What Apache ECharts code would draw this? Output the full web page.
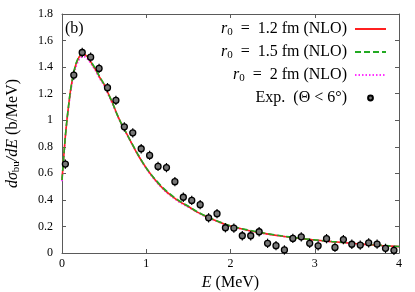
<!DOCTYPE html>
<html>
<head>
<meta charset="utf-8">
<script src="https://cdn.jsdelivr.net/npm/echarts@6/dist/echarts.min.js"></script>
<style>
html,body{margin:0;padding:0;background:#fff;}
#c{width:415px;height:292px;}
</style>
</head>
<body>
<div id="c"></div>
<script>
// Theory curves (NLO)
var curveX = [0,0.02,0.04,0.06,0.08,0.10,0.13,0.16,0.19,0.22,0.25,0.28,0.31,0.35,0.40,0.45,0.50,0.55,0.60,0.65,0.70,0.75,0.80,0.90,1.00,1.10,1.20,1.30,1.40,1.50,1.60,1.70,1.80,1.90,2.00,2.20,2.40,2.60,2.80,3.00,3.20,3.40,3.60,3.80,4.00];
var r12Y = [0.55,0.72,0.88,1.01,1.12,1.22,1.33,1.41,1.46,1.49,1.50,1.49,1.47,1.43,1.38,1.32,1.27,1.20,1.13,1.05,0.98,0.92,0.86,0.74,0.64,0.555,0.485,0.43,0.385,0.35,0.31,0.278,0.25,0.225,0.203,0.172,0.148,0.128,0.112,0.098,0.086,0.075,0.065,0.056,0.048];
var r15Y = [0.55,0.72,0.88,1.01,1.12,1.22,1.33,1.415,1.465,1.495,1.505,1.495,1.475,1.435,1.385,1.325,1.27,1.20,1.13,1.05,0.98,0.92,0.86,0.745,0.64,0.56,0.49,0.435,0.39,0.352,0.313,0.28,0.252,0.227,0.205,0.174,0.15,0.13,0.113,0.099,0.087,0.076,0.066,0.057,0.049];
var r20Y = [0.54,0.71,0.87,1.00,1.10,1.20,1.31,1.39,1.44,1.47,1.48,1.475,1.455,1.42,1.37,1.31,1.26,1.19,1.12,1.045,0.975,0.915,0.855,0.74,0.635,0.55,0.48,0.425,0.38,0.345,0.308,0.275,0.248,0.223,0.201,0.17,0.146,0.127,0.111,0.097,0.085,0.074,0.064,0.055,0.047];
// Experimental data (Theta < 6 deg)
var expX = [0.04,0.14,0.24,0.34,0.44,0.54,0.64,0.74,0.84,0.94,1.04,1.14,1.24,1.34,1.44,1.54,1.64,1.74,1.84,1.94,2.04,2.14,2.24,2.34,2.44,2.54,2.64,2.74,2.84,2.94,3.04,3.14,3.24,3.34,3.44,3.54,3.64,3.74,3.84,3.94];
var expY = [0.67,1.34,1.51,1.475,1.39,1.245,1.15,0.95,0.905,0.785,0.735,0.652,0.643,0.537,0.42,0.396,0.364,0.265,0.296,0.19,0.188,0.13,0.13,0.16,0.073,0.055,0.023,0.11,0.122,0.073,0.054,0.108,0.042,0.101,0.066,0.06,0.077,0.067,0.035,0.02];
var expErr = [0.035,0.035,0.035,0.035,0.035,0.035,0.035,0.035,0.035,0.035,0.035,0.035,0.035,0.035,0.035,0.035,0.035,0.035,0.035,0.035,0.035,0.035,0.035,0.035,0.035,0.035,0.035,0.035,0.035,0.035,0.035,0.035,0.035,0.035,0.035,0.035,0.035,0.035,0.035,0.035];
// Ticks
var xTicks = {min:0, max:4, step:1};
var yTicks = {min:0, max:1.8, step:0.2};

var FONT = 'Liberation Serif';
function zip(xs, ys){ return xs.map(function(x,i){ return [x, ys[i]]; }); }

var chart = echarts.init(document.getElementById('c'), null, {renderer:'canvas'});
var axisColor = '#5a5a5a';
var labels = {
  'r12': '{i|r}{s|0}{n|  =  1.2 fm (NLO)}',
  'r15': '{i|r}{s|0}{n|  =  1.5 fm (NLO)}',
  'r20': '{i|r}{s|0}{n|  =  2 fm (NLO)}',
  'exp': '{n|Exp.  (Θ < 6°)}'
};
var baseX = {type:'value', min:xTicks.min, max:xTicks.max, interval:xTicks.step,
  axisLine:{show:true, onZero:false, lineStyle:{color:axisColor, width:1}},
  axisTick:{show:true, inside:true, length:4, lineStyle:{color:axisColor}},
  splitLine:{show:false}};
var baseY = {type:'value', min:yTicks.min, max:yTicks.max, interval:yTicks.step,
  axisLine:{show:true, onZero:false, lineStyle:{color:axisColor, width:1}},
  axisTick:{show:true, inside:true, length:4, lineStyle:{color:axisColor}},
  splitLine:{show:false}};

var option = {
  animation:false,
  backgroundColor:'#fff',
  grid:{left:62, right:16, top:14, bottom:39, containLabel:false, outerBoundsMode:'none'},
  xAxis:[
    Object.assign({}, baseX, {position:'bottom',
      axisLabel:{show:true, color:'#000', fontFamily:FONT, fontSize:12, margin:5},
      name:'{i|E} (MeV)', nameLocation:'middle', nameGap:22,
      nameTextStyle:{color:'#000', fontFamily:FONT, fontSize:16, rich:{i:{fontStyle:'italic', fontFamily:FONT, fontSize:16}}}}),
    Object.assign({}, baseX, {position:'top', axisLabel:{show:false}})
  ],
  yAxis:[
    Object.assign({}, baseY, {position:'left',
      axisLabel:{show:true, color:'#000', fontFamily:FONT, fontSize:12, margin:9},
      name:'{i|dσ}{s|bu}{i|/dE} (b/MeV)', nameLocation:'middle', nameGap:40, nameRotate:90,
      nameTextStyle:{color:'#000', fontFamily:FONT, fontSize:16, lineHeight:18,
        rich:{i:{fontStyle:'italic', fontFamily:FONT, fontSize:16, lineHeight:18},
              s:{fontFamily:FONT, fontSize:11, lineHeight:10, verticalAlign:'bottom'}}}}),
    Object.assign({}, baseY, {position:'right', axisLabel:{show:false}})
  ],
  legend:{
    orient:'vertical', right:28, top:20, align:'right', padding:0,
    itemWidth:31, itemHeight:6, itemGap:5,
    data:[
      {name:'r12', itemStyle:{opacity:0}},
      {name:'r15', itemStyle:{opacity:0}},
      {name:'r20', itemStyle:{opacity:0}},
      {name:'exp'}
    ],
    formatter:function(n){ return labels[n]; },
    textStyle:{color:'#000', fontFamily:FONT, fontSize:16, lineHeight:18, padding:[0,3,0,0],
      rich:{i:{fontStyle:'italic', fontFamily:FONT, fontSize:16, lineHeight:18},
            s:{fontFamily:FONT, fontSize:11, lineHeight:10, verticalAlign:'bottom'},
            n:{fontFamily:FONT, fontSize:16, lineHeight:18}}}
  },
  graphic:[{type:'text', left:65, top:21, style:{text:'(b)', font:'16px "Liberation Serif"', fill:'#000'}}],
  series:[
    {name:'r12', type:'line', data:zip(curveX, r12Y), showSymbol:false, symbol:'none', smooth:0.3,
      lineStyle:{color:'#ff2020', width:1.6, type:'solid'}, itemStyle:{color:'#ff2020'}, z:3},
    {name:'r15', type:'line', data:zip(curveX, r15Y), showSymbol:false, symbol:'none', smooth:0.3,
      lineStyle:{color:'#22aa22', width:1.6, type:[6,3]}, itemStyle:{color:'#22aa22'}, z:4},
    {name:'r20', type:'line', data:zip(curveX, r20Y), showSymbol:false, symbol:'none', smooth:0.3,
      lineStyle:{color:'#ff30ff', width:1.6, type:[1.5,2]}, itemStyle:{color:'#ff30ff'}, z:2},
    {name:'errbar', type:'custom', z:5,
      data:expX.map(function(x,i){ return [x, expY[i], expErr[i]]; }),
      renderItem:function(params, api){
        var x = api.value(0), y = api.value(1), e = api.value(2);
        var p1 = api.coord([x, y - e]), p2 = api.coord([x, y + e]);
        return {type:'line', shape:{x1:p1[0], y1:p1[1], x2:p2[0], y2:p2[1]},
          style:{stroke:'#000', lineWidth:1.2}};
      }},
    {name:'exp', type:'line', data:zip(expX, expY), showSymbol:true, symbol:'circle', symbolSize:6,
      lineStyle:{width:0, opacity:0}, itemStyle:{color:'#777', borderColor:'#000', borderWidth:1.3}, z:6}
  ]
};
chart.setOption(option);
</script>
</body>
</html>
